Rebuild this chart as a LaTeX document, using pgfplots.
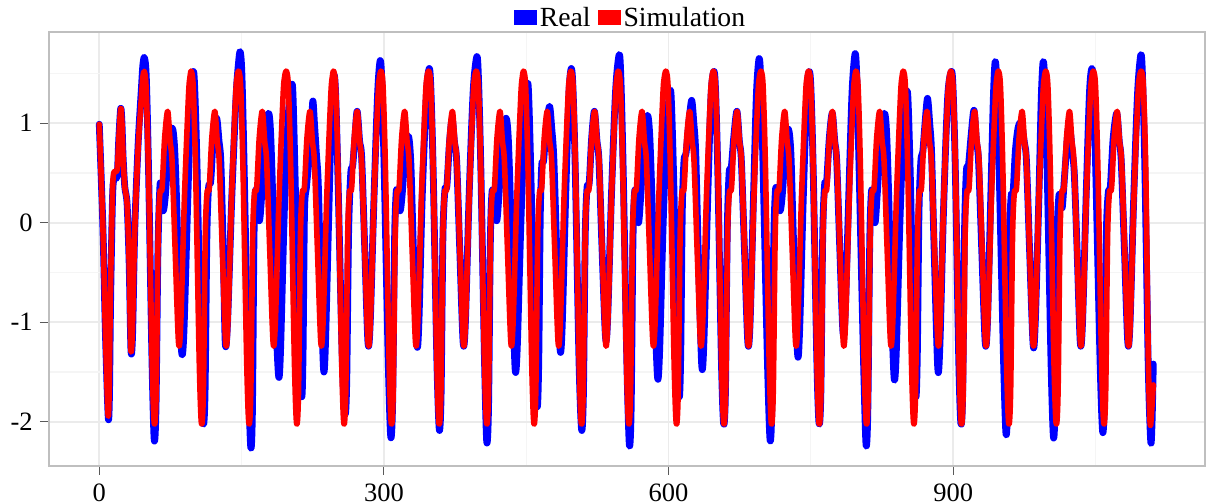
\documentclass[border=0pt]{standalone}
\usepackage{fontspec}
\setmainfont{Liberation Serif}
\usepackage{pgfplots}
\usepackage{pgfplotstable}
\pgfplotsset{compat=1.18}

\pgfplotstableread{
x y
0 0.99
3.9 -0.07
6.4 -1.08
9.2 -1.92
10.4 -1.7
11.7 -0.74
13.8 0.26
15.2 0.5
18.8 0.53
20.5 0.83
22.6 1.15
23.9 1.0
25.1 0.66
26.9 0.36
29.3 0.19
31.5 -0.41
33.2 -1.26
34.9 -1.1
37.4 -0.07
41 0.76
44.5 1.27
45.8 1.45
47.4 1.52
49.4 1.35
51.9 0.5
55.7 -1.4
58 -2.02
60 -1.7
62 -0.15
63.9 0.3
66.2 0.35
68.9 0.85
72.1 1.12
74.6 0.82
76.7 0.62
79.9 -0.25
83.5 -1.2
85.9 -1.0
89.8 0.26
94 1.27
95.7 1.47
97.1 1.52
99.1 1.35
101.6 0.5
105.4 -1.4
107.7 -2.02
109.7 -1.7
111.7 -0.15
113.6 0.3
115.9 0.35
118.6 0.85
121.8 1.12
124.3 0.82
126.4 0.62
129.6 -0.25
133.2 -1.2
135.6 -1.0
139.5 0.26
143.7 1.27
145.4 1.47
147.1 1.52
149.1 1.35
151.6 0.5
155.4 -1.4
157.7 -2.02
159.7 -1.7
161.7 -0.15
163.6 0.3
165.9 0.35
168.6 0.85
171.8 1.12
174.3 0.82
176.4 0.62
179.6 -0.25
183.2 -1.2
185.6 -1.0
189.5 0.26
193.7 1.27
195.4 1.47
197.4 1.52
199.4 1.35
201.9 0.5
205.7 -1.4
208 -2.02
210 -1.7
212 -0.15
213.9 0.3
216.2 0.35
218.9 0.85
222.1 1.12
224.6 0.82
226.7 0.62
229.9 -0.25
233.5 -1.2
235.9 -1.0
239.8 0.26
244 1.27
245.7 1.47
247.2 1.52
249.2 1.35
251.7 0.5
255.5 -1.4
257.8 -2.02
259.8 -1.7
261.8 -0.15
263.7 0.3
266 0.35
268.7 0.85
271.9 1.12
274.4 0.82
276.5 0.62
279.7 -0.25
283.3 -1.2
285.7 -1.0
289.6 0.26
293.8 1.27
295.5 1.47
297.2 1.52
299.2 1.35
301.7 0.5
305.5 -1.4
307.8 -2.02
309.8 -1.7
311.8 -0.15
313.7 0.3
316 0.35
318.7 0.85
321.9 1.12
324.4 0.82
326.5 0.62
329.7 -0.25
333.3 -1.2
335.7 -1.0
339.6 0.26
343.8 1.27
345.5 1.47
347.5 1.52
349.5 1.35
352 0.5
355.8 -1.4
358.1 -2.02
360.1 -1.7
362.1 -0.15
364 0.3
366.3 0.35
369 0.85
372.2 1.12
374.7 0.82
376.8 0.62
380 -0.25
383.6 -1.2
386 -1.0
389.9 0.26
394.1 1.27
395.8 1.47
397.7 1.52
399.7 1.35
402.2 0.5
406 -1.4
408.3 -2.02
410.3 -1.7
412.3 -0.15
414.2 0.3
416.5 0.35
419.2 0.85
422.4 1.12
424.9 0.82
427 0.62
430.2 -0.25
433.8 -1.2
436.2 -1.0
440.1 0.26
444.3 1.27
446 1.47
447.5 1.52
449.5 1.35
452 0.5
455.8 -1.4
458.1 -2.02
460.1 -1.7
462.1 -0.15
464 0.3
466.3 0.35
469 0.85
472.2 1.12
474.7 0.82
476.8 0.62
480 -0.25
483.6 -1.2
486 -1.0
489.9 0.26
494.1 1.27
495.8 1.47
497.5 1.52
499.5 1.35
502 0.5
505.8 -1.4
508.1 -2.02
510.1 -1.7
512.1 -0.15
514 0.3
516.3 0.35
519 0.85
522.2 1.12
524.7 0.82
526.8 0.62
530 -0.25
533.6 -1.2
536 -1.0
539.9 0.26
544.1 1.27
545.8 1.47
547.4 1.52
549.4 1.35
551.9 0.5
555.7 -1.4
558 -2.02
560 -1.7
562 -0.15
563.9 0.3
566.2 0.35
568.9 0.85
572.1 1.12
574.6 0.82
576.7 0.62
579.9 -0.25
583.5 -1.2
585.9 -1.0
589.8 0.26
594 1.27
595.7 1.47
597.6 1.52
599.6 1.35
602.1 0.5
605.9 -1.4
608.2 -2.02
610.2 -1.7
612.2 -0.15
614.1 0.3
616.4 0.35
619.1 0.85
622.3 1.12
624.8 0.82
626.9 0.62
630.1 -0.25
633.7 -1.2
636.1 -1.0
640 0.26
644.2 1.27
645.9 1.47
647.6 1.52
649.6 1.35
652.1 0.5
655.9 -1.4
658.2 -2.02
660.2 -1.7
662.2 -0.15
664.1 0.3
666.4 0.35
669.1 0.85
672.3 1.12
674.8 0.82
676.9 0.62
680.1 -0.25
683.7 -1.2
686.1 -1.0
690 0.26
694.2 1.27
695.9 1.47
697.8 1.52
699.8 1.35
702.3 0.5
706.1 -1.4
708.4 -2.02
710.4 -1.7
712.4 -0.15
714.3 0.3
716.6 0.35
719.3 0.85
722.5 1.12
725 0.82
727.1 0.62
730.3 -0.25
733.9 -1.2
736.3 -1.0
740.2 0.26
744.4 1.27
746.1 1.47
748.1 1.52
750.1 1.35
752.6 0.5
756.4 -1.4
758.7 -2.02
760.7 -1.7
762.7 -0.15
764.6 0.3
766.9 0.35
769.6 0.85
772.8 1.12
775.3 0.82
777.4 0.62
780.6 -0.25
784.2 -1.2
786.6 -1.0
790.5 0.26
794.7 1.27
796.4 1.47
797.9 1.52
799.9 1.35
802.4 0.5
806.2 -1.4
808.5 -2.02
810.5 -1.7
812.5 -0.15
814.4 0.3
816.7 0.35
819.4 0.85
822.6 1.12
825.1 0.82
827.2 0.62
830.4 -0.25
834 -1.2
836.4 -1.0
840.3 0.26
844.5 1.27
846.2 1.47
847.8 1.52
849.8 1.35
852.3 0.5
856.1 -1.4
858.4 -2.02
860.4 -1.7
862.4 -0.15
864.3 0.3
866.6 0.35
869.3 0.85
872.5 1.12
875 0.82
877.1 0.62
880.3 -0.25
883.9 -1.2
886.3 -1.0
890.2 0.26
894.4 1.27
896.1 1.47
898 1.52
900 1.35
902.5 0.5
906.3 -1.4
908.6 -2.02
910.6 -1.7
912.6 -0.15
914.5 0.3
916.8 0.35
919.5 0.85
922.7 1.12
925.2 0.82
927.3 0.62
930.5 -0.25
934.1 -1.2
936.5 -1.0
940.4 0.26
944.6 1.27
946.3 1.47
948 1.52
950 1.35
952.5 0.5
956.3 -1.4
958.6 -2.02
960.6 -1.7
962.6 -0.15
964.5 0.3
966.8 0.35
969.5 0.85
972.7 1.12
975.2 0.82
977.3 0.62
980.5 -0.25
984.1 -1.2
986.5 -1.0
990.4 0.26
994.6 1.27
996.3 1.47
998 1.52
1000 1.35
1002.5 0.5
1006.3 -1.4
1008.6 -2.02
1010.6 -1.7
1012.6 -0.15
1014.5 0.3
1016.8 0.35
1019.5 0.85
1022.7 1.12
1025.2 0.82
1027.3 0.62
1030.5 -0.25
1034.1 -1.2
1036.5 -1.0
1040.4 0.26
1044.6 1.27
1046.3 1.47
1048.2 1.52
1050.2 1.35
1052.7 0.5
1056.5 -1.4
1058.8 -2.02
1060.8 -1.7
1062.8 -0.15
1064.7 0.3
1067 0.35
1069.7 0.85
1072.9 1.12
1075.4 0.82
1077.5 0.62
1080.7 -0.25
1084.3 -1.2
1086.7 -1.0
1090.6 0.26
1094.8 1.27
1096.5 1.47
1098.6 1.52
1100.6 1.35
1103.1 0.5
1105.8 -1.4
1107.7 -2.02
1109.2 -1.9
1111 -1.63
}\simdata

\pgfplotstableread{
x y
0 0.99
3.9 -0.07
6.4 -1.08
9.4 -1.95
10.7 -1.75
11.9 -0.8
13.9 0.22
15.4 0.44
18.8 0.47
20.5 0.83
22.6 1.15
23.9 1.0
25.1 0.66
26.9 0.36
29.3 0.19
31.5 -0.41
33.4 -1.28
35.1 -1.12
37.4 -0.07
41 0.8
44.4 1.35
45.9 1.58
47.6 1.66
49.6 1.45
52 0.5
55.6 -1.4
57.9 -2.18
59.8 -1.85
61.8 -0.3
63.9 0.36
65.4 0.35
67.4 0.12
69.9 0.3
72.9 0.75
76.9 0.95
79.4 0.75
81.9 0.1
83.9 -0.7
86.9 -1.31
89.2 -1.1
92.9 0.1
96.4 1.2
99.2 1.52
100.8 1.3
103.2 0.5
107.2 -1.4
109.6 -2.02
111.5 -1.7
113.4 -0.15
115.2 0.35
117.5 0.42
120.2 0.85
123.7 1.05
126.2 0.82
128.2 0.6
130.7 -0.3
132.8 -1.21
135.2 -1.0
139.7 0.26
144.2 1.27
146.7 1.6
148.5 1.72
150.3 1.5
152.6 0.6
156.8 -1.4
159.6 -2.25
161.4 -1.9
163 -0.2
164.5 0.3
166 0.28
168.7 0.02
171 0.25
174.5 0.85
178.3 1.1
180.5 0.92
183 0.2
185.5 -0.8
188.9 -1.53
191 -1.3
195 0.1
199 1.05
202.8 1.38
204.3 1.25
206.8 0.3
210.3 -1.2
213.4 -1.75
214.8 -1.3
216.3 0.1
218.3 0.35
220.8 0.6
222.8 0.75
225 1.22
226.8 1.0
228.8 0.7
230.8 0.4
233.3 -0.5
236.3 -1.46
238.3 -1.25
241.8 0.05
244.8 1.1
247.3 1.48
249.1 1.3
251.6 0.45
256.1 -1.35
259 -1.92
260.8 -1.6
262.8 -0.1
265.1 0.5
267.1 0.57
269.4 0.85
271.8 1.12
274.4 0.82
276.6 0.65
279.8 -0.25
283.2 -1.2
285.6 -1.0
289.6 0.26
293.4 1.3
296.1 1.63
297.9 1.4
300.4 0.5
304.6 -1.4
307.2 -2.15
309.2 -1.8
311.2 -0.2
312.9 0.3
314.4 0.3
317.1 0.12
319.4 0.3
322.4 0.7
325.9 0.87
328.4 0.6
330.9 -0.2
334.7 -1.21
336.9 -1.0
340.4 0.26
344.9 1.3
347.8 1.55
349.5 1.35
352 0.5
355.9 -1.4
358.4 -2.08
360.3 -1.72
362.2 -0.15
364.3 0.33
366.4 0.37
369.1 0.8
371.9 1.04
374.5 0.8
376.7 0.62
379.9 -0.25
383.5 -1.2
385.9 -1.0
389.8 0.26
394.1 1.32
398 1.67
399.8 1.42
402.3 0.5
406.1 -1.4
408.4 -2.2
410.3 -1.85
412.2 -0.2
413.9 0.3
415.9 0.28
418.9 0.02
421.4 0.3
424.9 0.85
428.8 1.05
431.1 0.85
433.4 0.2
435.7 -0.7
438.4 -1.48
440.6 -1.25
444.4 0.0
448.4 1.05
451.4 1.4
452.9 1.2
455.4 0.3
458.9 -1.3
461.6 -1.85
463.2 -1.4
464.8 0.05
466.4 0.58
468.3 0.62
471.1 0.95
474.6 1.17
476.9 0.95
479.1 0.65
482.1 -0.25
485.6 -1.26
487.9 -1.05
491.6 0.26
495.1 1.3
497.5 1.55
499.3 1.35
501.8 0.5
505.7 -1.4
508.4 -2.08
510.3 -1.72
512.2 -0.15
514.1 0.35
516.4 0.4
519 0.85
521.9 1.12
524.6 0.82
526.7 0.62
529.9 -0.25
533.6 -1.15
535.9 -0.95
539.8 0.26
544.2 1.32
548 1.69
549.8 1.45
552.3 0.5
556.1 -1.4
558.7 -2.23
560.6 -1.88
562.5 -0.2
564.2 0.3
566 0.28
568.4 0.0
570.9 0.3
574.2 0.85
577.8 1.08
580.2 0.88
582.7 0.2
585.2 -0.75
588.4 -1.55
590.6 -1.3
594.4 0.0
598.4 1.0
601.8 1.33
603.3 1.15
605.8 0.3
608.9 -1.2
611.4 -1.75
612.9 -1.3
614.5 0.1
616.3 0.62
618.5 0.7
621.4 1.0
624.4 1.23
626.7 1.0
628.7 0.7
631.4 -0.3
635 -1.43
637.3 -1.2
640.9 0.1
644.7 1.25
647.7 1.52
649.5 1.35
652 0.5
655.8 -1.4
658.1 -2.02
660 -1.7
661.9 -0.1
663.9 0.5
666.1 0.55
668.9 0.87
672.1 1.12
674.7 0.82
676.8 0.62
680 -0.25
683.6 -1.2
686 -1.0
689.7 0.3
692.7 1.3
695.5 1.65
697.3 1.42
699.8 0.5
704.3 -1.4
707 -2.18
708.9 -1.85
710.9 -0.2
712.7 0.32
714.5 0.32
717.6 0.12
720.1 0.3
723.2 0.75
726.4 0.94
729 0.7
731.5 -0.1
735.9 -1.3
738.2 -1.08
741.9 0.2
745.8 1.3
748.3 1.52
750.1 1.35
752.6 0.5
756.4 -1.4
758.7 -2.02
760.6 -1.7
762.5 -0.15
764.5 0.38
766.7 0.42
769.5 0.85
772.6 1.1
775.2 0.82
777.3 0.62
780.5 -0.25
783.9 -1.1
786.3 -0.9
790.1 0.3
793.5 1.32
796.7 1.7
798.5 1.45
801 0.5
805.6 -1.4
808.2 -2.23
810.1 -1.88
812.1 -0.2
813.8 0.3
815.4 0.28
817.7 0.0
820.1 0.3
823.7 0.85
827.6 1.1
829.9 0.9
832.3 0.2
834.7 -0.75
837.8 -1.56
840.1 -1.3
843.9 0.0
847.9 1.0
851.3 1.32
852.8 1.15
855.3 0.3
858.3 -1.2
860.8 -1.75
862.3 -1.3
864 0.1
866 0.62
868.1 0.72
870.4 1.0
873 1.25
875.3 1.0
877.3 0.7
880.1 -0.3
883.8 -1.46
886.1 -1.22
889.8 0.1
894.2 1.25
898.1 1.52
899.9 1.35
902.4 0.5
906 -1.4
908.2 -2.02
910.1 -1.7
912 -0.1
914 0.52
916.2 0.58
919 0.88
922 1.13
924.6 0.82
926.8 0.62
930.1 -0.25
933.8 -1.2
936.2 -1.0
939.8 0.3
942.4 1.25
944.3 1.62
946.1 1.4
948.6 0.5
953.2 -1.4
955.7 -2.12
957.4 -1.8
959.2 -0.2
961.2 0.27
963.2 0.3
965.6 0.72
968.6 0.96
971.9 1.0
975.2 0.8
977.3 0.62
980.5 -0.25
984.3 -1.22
986.6 -1.0
990.4 0.26
992.9 1.25
994.9 1.62
996.7 1.4
999.2 0.5
1003.2 -1.4
1005.7 -2.15
1007.5 -1.82
1009.4 -0.2
1011.4 0.26
1013.2 0.25
1015 0.15
1017.7 0.5
1021.2 0.93
1023.7 0.9
1025.7 0.7
1027.7 0.5
1030.6 -0.25
1034 -1.2
1036.4 -1.0
1040.2 0.26
1043.7 1.3
1046.2 1.55
1047.9 1.38
1050.4 0.5
1054.9 -1.4
1057.6 -2.1
1059.5 -1.75
1061.4 -0.15
1063.5 0.3
1065.7 0.36
1068.7 0.85
1072.5 1.1
1075.1 0.82
1077.2 0.62
1080.5 -0.25
1084.1 -1.2
1086.5 -1.0
1090.4 0.26
1094.4 1.3
1097.9 1.69
1099.7 1.45
1102.2 0.5
1105.7 -1.45
1108.3 -2.2
1109.7 -2.0
1111 -1.42
}\realdata

\begin{document}
\begin{tikzpicture}
\useasboundingbox (-24.5bp,-19bp) rectangle (578.5bp,233bp);
\begin{axis}[
  at={(0,0)}, anchor=south west,
  scale only axis,
  width=578bp, height=217bp,
  xmin=-53, xmax=1165.5,
  ymin=-2.445, ymax=1.917,
  xtick={0,300,600,900},
  xticklabels={0,300,600,900},
  ytick={-2,-1,0,1},
  yticklabels={-2,-1,0,1},
  minor xtick={150,450,750,1050},
  minor ytick={-1.5,-0.5,0.5,1.5},
  grid=both,
  major grid style={draw=black!8, line width=0.9bp},
  minor grid style={draw=black!4, line width=0.6bp},
  axis line style={draw=black!25, line width=1bp},
  tick align=outside,
  major tick length=4.5bp,
  minor tick length=0pt,
  tick style={draw=black!65, line width=0.6bp},
  xtick pos=bottom, ytick pos=left,
  ticklabel style={font=\fontsize{13.3}{15}\selectfont, text=black},
  xticklabel style={anchor=north, inner sep=0pt, yshift=-4bp},
  yticklabel style={anchor=east, inner sep=0pt, xshift=-3.5bp},
  legend columns=2,
  legend style={at={(0.5,1)}, anchor=south, yshift=-0.5bp, xshift=2bp, draw=none, fill=none,
    font=\fontsize{13.9}{16}\selectfont, inner sep=0pt, column sep=0bp,
    nodes={inner sep=1.5bp}},
  /tikz/every odd column/.append style={column sep=0bp},
  /tikz/every even column/.append style={column sep=2bp},
]
\addplot[blue, line width=3.4bp, smooth, tension=0.5, line join=round, line cap=round,
  legend image code/.code={\path[fill=blue, draw=none] (0bp,-3.1bp) rectangle (11.5bp,4.4bp);}]
  table[x=x, y=y] {\realdata};
\addlegendentry{Real}
\addplot[red, line width=2.8bp, smooth, tension=0.5, line join=round, line cap=round,
  legend image code/.code={\path[fill=red, draw=none] (0bp,-3.1bp) rectangle (11.5bp,4.4bp);}]
  table[x=x, y=y] {\simdata};
\addlegendentry{Simulation}
\end{axis}
\end{tikzpicture}
\end{document}
